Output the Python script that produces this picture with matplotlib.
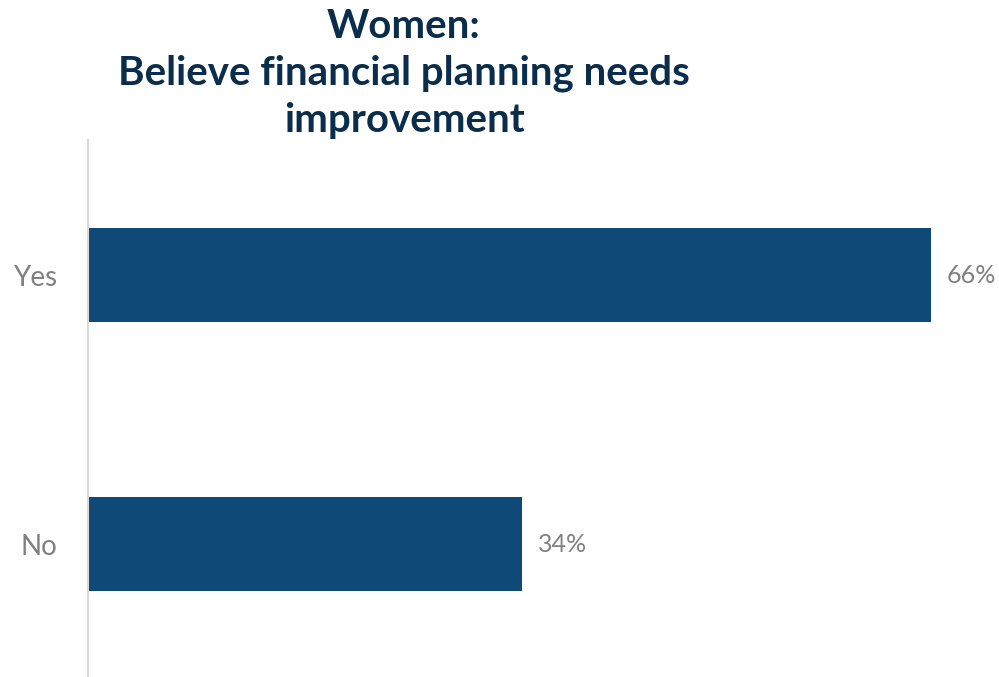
import matplotlib
matplotlib.use("Agg")
import matplotlib.pyplot as plt

plt.rcParams["font.family"] = ["Lato", "DejaVu Sans"]

# data
categories = ["No", "Yes"]
values = [34, 66]
title = "Women:\nBelieve financial planning needs\nimprovement"

bar_color = "#0F4978"
title_color = "#0B2D4C"
label_color = "#808080"

fig = plt.figure(figsize=(9.99, 6.77), dpi=100)
# axes: left edge at the baseline, spanning to the right edge of the figure
ax = fig.add_axes([88 / 999, 0, 911 / 999, (677 - 140) / 677])

ax.barh(categories, values, height=0.35, color=bar_color)
ax.set_xlim(0, 911 / 12.77)
ax.set_ylim(-0.494, 1.502)

for i, v in enumerate(values):
    ax.text(v + 1.2, i, f"{v}%", va="center", ha="left", fontsize=18, color=label_color)

for side in ["top", "right", "bottom"]:
    ax.spines[side].set_visible(False)
ax.spines["left"].set_color("#D9D9D9")
ax.spines["left"].set_linewidth(1.5)
ax.set_xticks([])
ax.tick_params(axis="y", length=0, pad=22, labelsize=20, labelcolor=label_color)

fig.text(404 / 999, 1 - 8 / 677, title, ha="center", va="top", fontsize=29,
         fontweight="bold", color=title_color, linespacing=1.32)

fig.savefig("out.png", dpi=100)
